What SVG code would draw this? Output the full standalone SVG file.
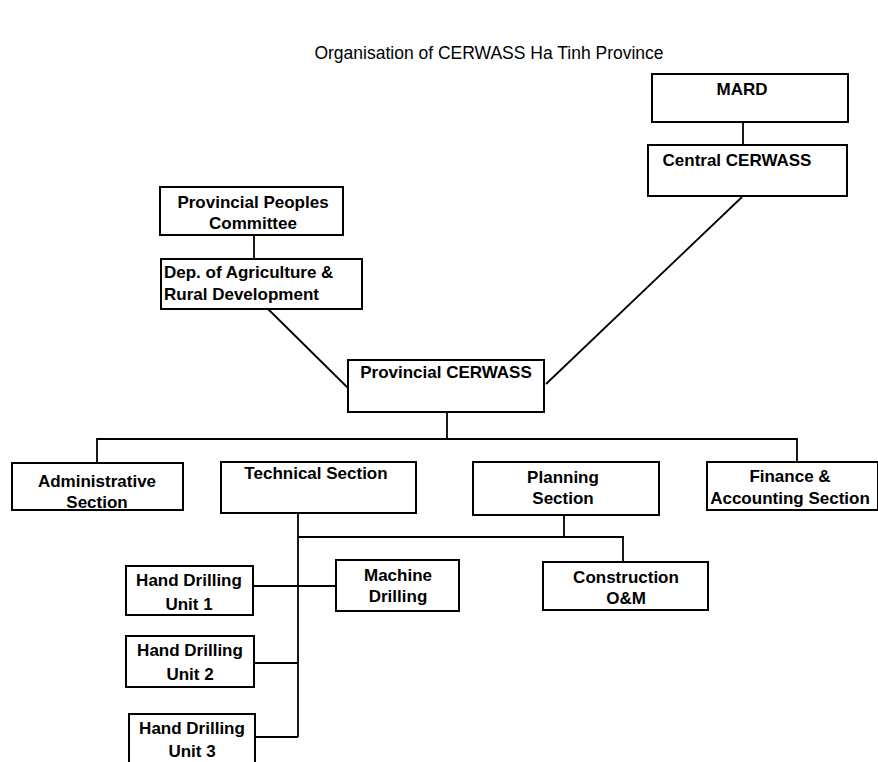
<svg xmlns="http://www.w3.org/2000/svg" width="878" height="762" viewBox="0 0 878 762">
<style>
.box{fill:#fff;stroke:#000;stroke-width:2}
.t{font-family:"Liberation Sans",Arial,sans-serif;font-size:17px;font-weight:bold;fill:#000;text-anchor:middle}
.tl{text-anchor:start}
.title{font-family:"Liberation Sans",Arial,sans-serif;font-size:17.5px;fill:#000;text-anchor:middle}
.c{fill:none;stroke:#000;stroke-width:1.8}
</style>
<rect width="878" height="762" fill="#fff"/>
<text class="title" x="489" y="59">Organisation of CERWASS Ha Tinh Province</text>
<g id="connectors">
<line class="c" x1="743" y1="122" x2="743" y2="145"/>
<line class="c" x1="254" y1="235" x2="254" y2="259"/>
<line class="c" x1="268" y1="309" x2="348" y2="388"/>
<line class="c" x1="742" y1="197" x2="546" y2="384"/>
<line class="c" x1="447" y1="412" x2="447" y2="439"/>
<polyline class="c" points="97,463 97,439 797,439 797,462"/>
<line class="c" x1="298" y1="513" x2="298" y2="737"/>
<line class="c" x1="564" y1="515" x2="564" y2="537"/>
<polyline class="c" points="298,537 623,537 623,562"/>
<line class="c" x1="253" y1="586" x2="336" y2="586"/>
<line class="c" x1="254" y1="663" x2="298" y2="663"/>
<line class="c" x1="255" y1="737" x2="298" y2="737"/>
</g>
<g id="mard"><rect class="box" x="652" y="74" width="196" height="48"/><text class="t" x="742" y="95">MARD</text></g>
<g id="central"><rect class="box" x="648" y="145" width="199" height="51"/><text class="t" x="737" y="166">Central CERWASS</text></g>
<g id="ppc"><rect class="box" x="160" y="187" width="183" height="48"/><text class="t" x="253" y="208">Provincial Peoples</text><text class="t" x="253" y="229">Committee</text></g>
<g id="dard"><rect class="box" x="161" y="259" width="201" height="50"/><text class="t tl" x="164" y="278">Dep. of Agriculture &amp;</text><text class="t tl" x="164" y="300">Rural Development</text></g>
<g id="provincial"><rect class="box" x="348" y="360" width="196" height="52"/><text class="t" x="446" y="378">Provincial CERWASS</text></g>
<g id="admin"><rect class="box" x="12" y="463" width="171" height="47"/><text class="t" x="97" y="487">Administrative</text><text class="t" x="97" y="508">Section</text></g>
<g id="technical"><rect class="box" x="221" y="462" width="195" height="51"/><text class="t" x="316" y="479">Technical Section</text></g>
<g id="planning"><rect class="box" x="473" y="462" width="186" height="53"/><text class="t" x="563" y="483">Planning</text><text class="t" x="563" y="504">Section</text></g>
<g id="finance"><rect class="box" x="707" y="462" width="171" height="48"/><text class="t" x="790" y="482">Finance &amp;</text><text class="t" x="790" y="504">Accounting Section</text></g>
<g id="machine"><rect class="box" x="336" y="560" width="123" height="51"/><text class="t" x="398" y="581">Machine</text><text class="t" x="398" y="602">Drilling</text></g>
<g id="construction"><rect class="box" x="543" y="562" width="165" height="48"/><text class="t" x="626" y="583">Construction</text><text class="t" x="626" y="604">O&amp;M</text></g>
<g id="hd1"><rect class="box" x="126" y="566" width="127" height="49"/><text class="t" x="189" y="586">Hand Drilling</text><text class="t" x="189" y="610">Unit 1</text></g>
<g id="hd2"><rect class="box" x="126" y="636" width="128" height="51"/><text class="t" x="190" y="656">Hand Drilling</text><text class="t" x="190" y="680">Unit 2</text></g>
<g id="hd3"><rect class="box" x="129" y="714" width="126" height="60"/><text class="t" x="192" y="734">Hand Drilling</text><text class="t" x="192" y="757">Unit 3</text></g>
</svg>
